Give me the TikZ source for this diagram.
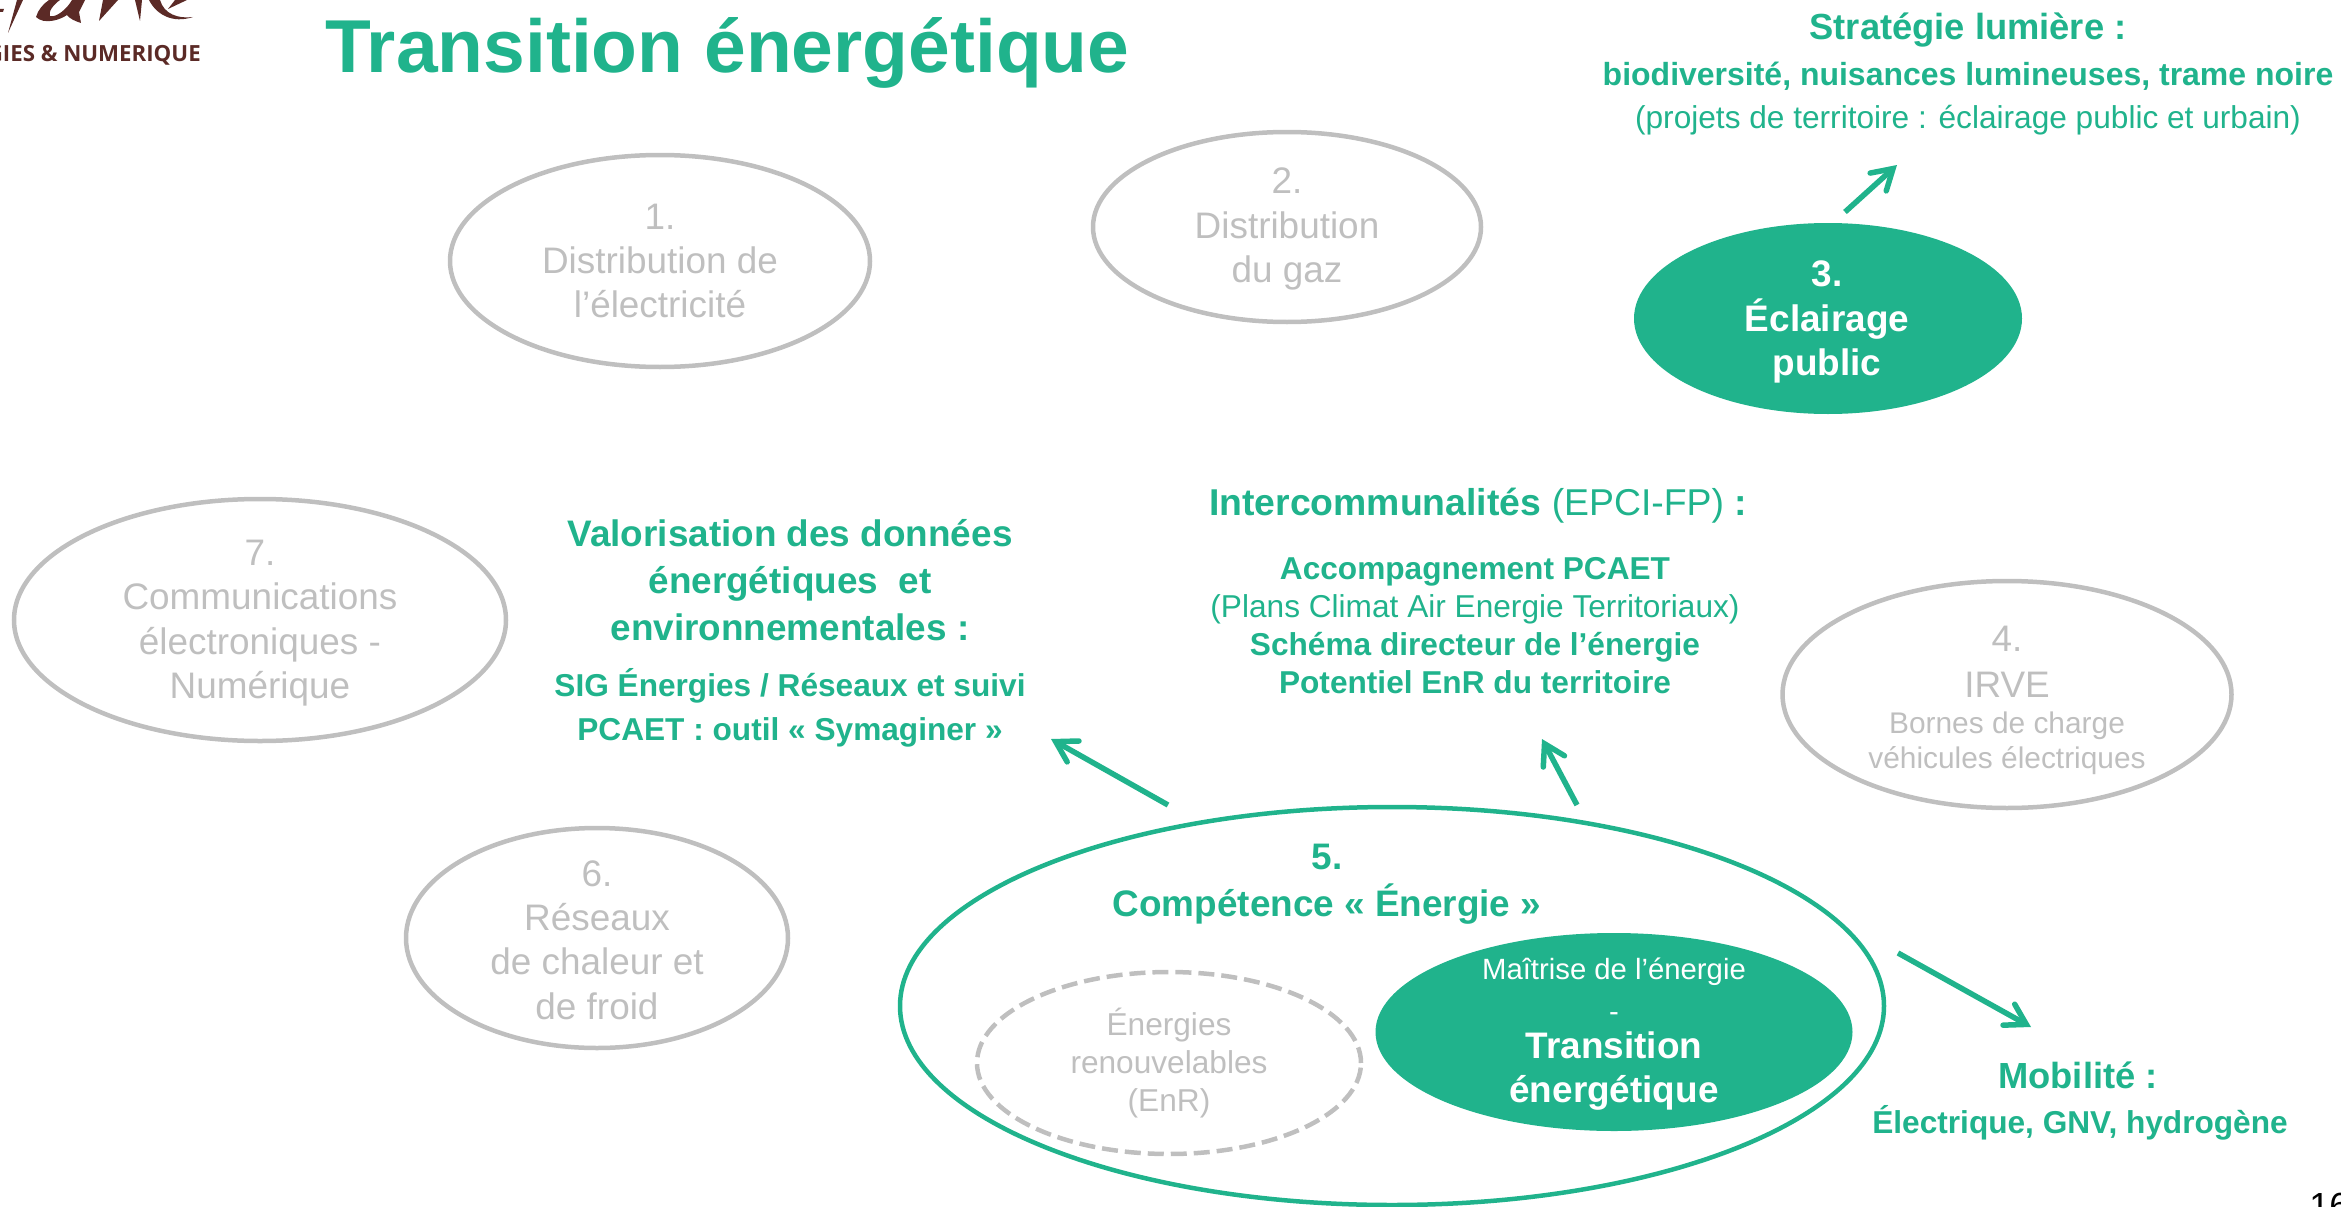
\documentclass[tikz,border=0pt]{standalone}
\usepackage{fontspec}
\setmainfont{Liberation Sans}
\newfontfamily\logofont{Open Sans}
\usetikzlibrary{arrows.meta,shapes.geometric}
\definecolor{vertsy}{RGB}{32,179,140}
\definecolor{grissy}{RGB}{191,191,191}
\definecolor{brunsy}{RGB}{91,42,38}
\newcommand{\corps}[1]{\fontsize{#1}{1.2\dimexpr #1pt\relax}\selectfont}
\begin{document}
\begin{tikzpicture}[x=0.03cm,y=-0.03cm]
\tikzset{ovalgris/.style={draw=grissy, line width=4.5*0.03cm, ellipse, inner sep=0pt, align=center, text=grissy, font=\corps{31.5}},
  ovalvert/.style={fill=vertsy, draw=none, ellipse, inner sep=0pt},
  textegris/.style={text=grissy, align=center, inner sep=0pt, font=\corps{31.5}},
  textevert/.style={text=vertsy, align=center, inner sep=0pt, font=\corps{31}},
  texteblanc/.style={text=white, align=center, inner sep=0pt, font=\corps{31.5}},
  fleche/.style={draw=vertsy, line width=5.5*0.03cm, -{Straight Barb[length=20*0.03cm,width=24*0.03cm,line cap=round,line join=miter]}}}
\clip (0,0) rectangle (2341,1207);
\useasboundingbox (0,0) rectangle (2341,1207);
% logo
\fill[brunsy] (8,33) -- (17,0) -- (23,0) -- cycle;
\fill[brunsy] (0,9) -- (4,9) -- (3,12) -- (0,12) -- cycle;
\fill[brunsy] (36,17) .. controls (38,10) and (43,4) .. (49,0) -- (60,0) .. controls (53,5) and (48,12) .. (50,16) .. controls (56,18) and (67,9) .. (72,0) -- (85,0) -- (79,12) -- (81,23) .. controls (75,21) and (70,19) .. (67,15) .. controls (60,20) and (44,25) .. (36,17) -- cycle;
\fill[brunsy] (99,21) -- (103,0) -- (118,0) -- cycle;
\fill[brunsy] (135,0) -- (142,0) -- (140,21) -- cycle;
\fill[brunsy] (149,0) .. controls (156,14) and (172,24) .. (193,17) .. controls (178,19) and (164,14) .. (160,0) -- cycle;
\fill[brunsy] (168,9) -- (187,0) -- (175,0) -- cycle;
\node[anchor=east, inner sep=0pt, text=brunsy, font=\logofont\bfseries\fontsize{19}{22}\selectfont] (logotxt) at (201,55) {GIES \& NUMERIQUE};
% titre
\node[anchor=west, inner sep=0pt, text=vertsy, font=\fontsize{64}{70}\bfseries\selectfont] (titre) at (325,53) {Transition énergétique};
% les ovales
\node[ovalgris, minimum width=420*0.03cm, minimum height=212*0.03cm] (un) at (660,261) {1.\\Distribution de\\l’électricité};
\node[ovalgris, minimum width=388*0.03cm, minimum height=190*0.03cm] (deux) at (1287,227) {};
\node[textegris] (deuxtxt) at (1287,229) {2.\\Distribution\\du gaz};
\node[ovalvert, minimum width=388*0.03cm, minimum height=191*0.03cm] (trois) at (1828,318.5) {};
\node[texteblanc, font=\corps{31.5}\bfseries] (troistxt) at (1827,322) {3.\\Éclairage\\public};
\node[ovalgris, minimum width=492*0.03cm, minimum height=242*0.03cm] (sept) at (260,620) {};
\node[textegris] (septtxt) at (260,623) {7.\\Communications\\électroniques -\\Numérique};
\node[ovalgris, minimum width=449*0.03cm, minimum height=227*0.03cm] (quatre) at (2007,694.5) {};
\node[textegris] (quatretxt) at (2007,700) {4.\\[1.5pt]IRVE\\[-7pt]{\corps{25.5}Bornes de charge}\\[-8pt]{\corps{25.5}véhicules électriques}};
\node[ovalgris, minimum width=382*0.03cm, minimum height=220*0.03cm] (six) at (597,938) {};
\node[textegris] (sixtxt) at (597,940) {6.\\Réseaux\\de chaleur et\\de froid};
\node[draw=vertsy, line width=4.5*0.03cm, ellipse, inner sep=0pt, minimum width=984*0.03cm, minimum height=398*0.03cm] (cinq) at (1392,1006) {};
\node[textevert, font=\corps{31.5}\bfseries] (cinqtxt) at (1327,884) {5.\\[2pt]Compétence « Énergie »};
\node[ovalgris, dashed, dash pattern=on 16*0.03cm off 7*0.03cm, font=\corps{27}, minimum width=384*0.03cm, minimum height=182*0.03cm] (enr) at (1169,1063) {Énergies\\renouvelables\\(EnR)};
\node[ovalvert, minimum width=477*0.03cm, minimum height=198*0.03cm] (mde) at (1614,1032) {};
\node[texteblanc] (mdetxt) at (1614,1034) {{\corps{25}Maîtrise de l’énergie}\\[-2pt]{\corps{25}-}\\[-6pt]{\bfseries Transition}\\{\bfseries énergétique}};
% les textes verts
\node[textevert] (lumiere) at (1968,74) {{\corps{31}\bfseries Stratégie lumière :}\\[2pt]{\corps{27.3}\bfseries biodiversité, nuisances lumineuses, trame noire}\\[-1pt]{\corps{27}(projets de territoire : éclairage public et urbain)}};
\node[textevert] (valo) at (790,633) {{\corps{31.5}\bfseries Valorisation des données}\\[3pt]{\corps{31.5}\bfseries énergétiques\ \ et}\\[3pt]{\corps{31.5}\bfseries environnementales :}\\[11pt]{\corps{27}\bfseries SIG Énergies / Réseaux et suivi}\\{\corps{27}\bfseries PCAET : outil « Symaginer »}};
\node[textevert, font=\corps{31.9}] (epci) at (1478,506) {\textbf{Intercommunalités} (EPCI-FP) \textbf{:}};
\node[textevert, font=\corps{27}] (pcaet) at (1475,626) {\textbf{Accompagnement PCAET}\\(Plans Climat Air Energie Territoriaux)\\\textbf{Schéma directeur de l’énergie}\\\textbf{Potentiel EnR du territoire}};
\node[textevert, font=\corps{31}\bfseries] (mob) at (2078,1075) {Mobilité :};
\node[textevert, font=\corps{27}\bfseries] (mobsuite) at (2080,1123) {Électrique, GNV, hydrogène};
\node[anchor=north west, inner sep=0pt, font=\corps{31}] (page) at (2309,1193) {16};
% les fleches
\coordinate (a1) at (1168,805);
\coordinate (a2) at (1051,739);
\coordinate (b1) at (1577,805);
\coordinate (b2) at (1542,739);
\coordinate (c1) at (1845,212);
\coordinate (c2) at (1897,165);
\coordinate (d1) at (1898,953);
\coordinate (d2) at (2031,1027);
\draw[fleche] (a1) -- (a2);
\draw[fleche] (b1) -- (b2);
\draw[fleche] (c1) -- (c2);
\draw[fleche] (d1) -- (d2);
\end{tikzpicture}
\end{document}
